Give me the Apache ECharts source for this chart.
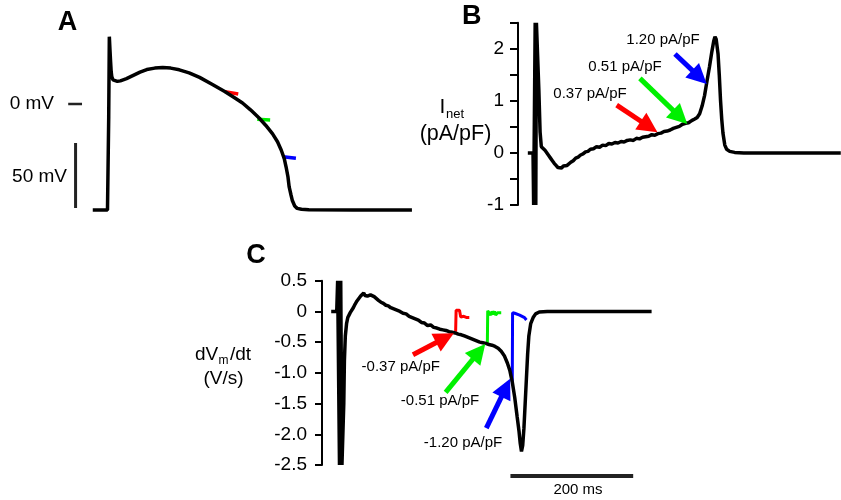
<!DOCTYPE html>
<html>
<head>
<meta charset="utf-8">
<script src="https://cdn.jsdelivr.net/npm/echarts@6/dist/echarts.min.js"></script>
<style>
html,body{margin:0;padding:0;background:#fff}
#main{width:841px;height:500px}
</style>
</head>
<body>
<div id="main"></div>
<script>
// time in ms from the upstroke, all three panels share the same time scale

// A: action potential (mV)
var apTrace = [[-25,-81.5],[-1,-81.5],[0,-80],[1,-10],[2,51.8],[3,42],[4,33],[5,25],[6,21],[8,18.5],[11,17.6],[15,17.4],[20,17.8],
  [30,19.5],[41,22],[52,24.5],[63,26.5],[76,27.6],[89,28],[102,27.6],[116,26.3],[132,24],[149,20.5],[170,15],
  [190,9.6],[206,4.8],[219,0.8],[232,-4.5],[246,-10.8],[257,-16.5],[268,-23],[276,-29],[282,-35.4],[287,-42],
  [290,-48.5],[293,-56],[295,-63.8],[298,-70],[300,-74],[304,-78.5],[308,-80.3],[315,-81],[327,-81.3],[400,-81.5],[495,-81.5]];
var apRed = [[190.5,9.5],[212,7.7]];
var apGreen = [[243,-11.8],[264,-12.3]];
var apBlue = [[285,-40.5],[306,-41.8]];
var apZeroTick = [[-65,0],[-42.5,0]];
var apScaleBar = [[-53,-80],[-53,-30]];

// B: net current (pA/pF)
var inetTrace = [[-12,0],[-3.5,0],[-2.5,-1],[-1,-1],[0,2.5],[1,-1],[2,2.5],[4,2.5],[6,1.2],[8,0.4],[10,0.12],[13,0.12],[16,0.05],[19,0.03],
  [22,-0.05],[25,-0.1],[28,-0.15],[31,-0.2],[34,-0.24],[37,-0.28],[40,-0.25],[43,-0.29],[46,-0.25],[49,-0.28],[52,-0.24],
  [55,-0.22],[58,-0.18],[62,-0.15],[66,-0.1],[70,-0.08],[74,-0.04],[78,-0.02],[82,0.02],[86,0.03],[90,0.07],[95,0.08],
  [100,0.12],[105,0.11],[110,0.15],[115,0.14],[120,0.18],[125,0.17],[130,0.2],[135,0.19],[140,0.22],[145,0.21],[150,0.24],
  [155,0.25],[160,0.24],[165,0.28],[170,0.27],[175,0.3],[180,0.31],[185,0.32],[190,0.35],[195,0.34],[200,0.37],[205,0.38],
  [210,0.41],[215,0.42],[220,0.44],[225,0.47],[230,0.49],[235,0.51],[240,0.55],[245,0.57],[250,0.58],[255,0.62],[260,0.65],
  [264,0.68],[268,0.75],[272,0.9],[276,1.1],[280,1.38],[284,1.65],[288,1.95],[291,2.15],[293,2.23],[295,2.18],[298,1.9],
  [300,1.5],[302,1.02],[304,0.65],[306,0.38],[309,0.15],[312,0.07],[317,0.03],[325,0.01],[340,0],[380,0],[420,0],[460,0],[498,0]];
var inetArrows = [
  {color:'#ff0000', from:[132.8,0.919], to:[185.7,0.503]},
  {color:'#00f000', from:[170.7,1.432], to:[236.2,0.687]},
  {color:'#0000ff', from:[227.8,1.898], to:[267.7,1.455]}
];

// C: dVm/dt (V/s)
var dvdtTrace = [[-17,0],[-8,0],[-6.5,0.5],[-4.5,0.5],[-3.5,-2.5],[-1.5,0.5],[0.5,-2.5],[2.5,-2.5],[3.5,-1.5],[4.5,-0.8],[6,-0.4],[8,-0.2],[10,-0.1],
  [12,-0.06],[14,-0.02],[16,0],[19,0.06],[22,0.12],[25,0.17],[28,0.2],[31,0.25],[34,0.28],[36,0.3],[38,0.26],[40,0.28],
  [42,0.25],[44,0.28],[47,0.27],[50,0.29],[53,0.24],[56,0.22],[60,0.18],[64,0.15],[68,0.13],[72,0.1],[76,0.09],[80,0.06],
  [85,0.04],[90,0.02],[95,0],[100,-0.03],[105,-0.04],[110,-0.08],[115,-0.1],[120,-0.12],[125,-0.14],[130,-0.18],[135,-0.19],
  [140,-0.23],[145,-0.22],[150,-0.26],[155,-0.27],[160,-0.29],[165,-0.3],[170,-0.31],[175,-0.33],[180,-0.34],[185,-0.35],
  [190,-0.37],[195,-0.38],[200,-0.4],[205,-0.42],[210,-0.44],[215,-0.46],[220,-0.48],[225,-0.5],[230,-0.51],[235,-0.52],
  [240,-0.54],[245,-0.55],[250,-0.57],[255,-0.6],[260,-0.65],[265,-0.72],[270,-0.84],[274,-0.96],[278,-1.15],[282,-1.4],
  [286,-1.72],[289,-1.95],[291,-2.15],[293,-2.28],[295,-2.18],[297,-1.9],[299,-1.5],[301,-1.1],[303,-0.7],[305,-0.4],
  [308,-0.2],[312,-0.1],[316,-0.04],[322,-0.01],[335,0],[380,0],[430,0],[480,0],[505,0]];
var dvdtRed = [[185.7,-0.33],[186.5,0.02],[192,0.02],[194,-0.09],[196,-0.06],[199,-0.08],[201,-0.07],[204,-0.1],[208,-0.1]];
var dvdtGreen = [[237.4,-0.52],[238,0.01],[241,0],[243,-0.06],[245,0],[247,-0.05],[249,0],[251,-0.06],[254,-0.02],[257,-0.03],[260,-0.02]];
var dvdtBlue = [[278,-1.15],[278.5,-0.02],[282,-0.03],[285,-0.05],[290,-0.06],[293,-0.08],[298,-0.1],[301,-0.14]];
var dvdtArrows = [
  {color:'#ff0000', from:[116.2,-0.705], to:[168.3,-0.432]},
  {color:'#00f000', from:[169.4,-1.319], to:[223.7,-0.656]},
  {color:'#0000ff', from:[235.7,-1.899], to:[267.4,-1.244]}
];
var timeScaleBar = [[275,-2.68],[475,-2.68]];

var FONT = '"Liberation Sans", Arial, sans-serif';

function trace(data, idx, color, width, z) {
  return {
    type:'line', xAxisIndex:idx, yAxisIndex:idx, data:data, symbol:'none',
    lineStyle:{color:color, width:width}, silent:true, z:z || 2
  };
}

function arrows(list, idx) {
  return {
    type:'line', xAxisIndex:idx, yAxisIndex:idx, data:[], silent:true, z:5,
    markLine:{
      silent:true, animation:false,
      symbol:['none','triangle'], symbolSize:20,
      label:{show:false},
      emphasis:{disabled:true},
      data:list.map(function (a) {
        return [
          {coord:a.from, lineStyle:{color:a.color, width:5, type:'solid'}, itemStyle:{color:a.color}},
          {coord:a.to}
        ];
      })
    }
  };
}

function txt(text, x, y, size, align, bold) {
  return {
    type:'text', x:x, y:y, silent:true,
    style:{
      text:text, fill:'#000',
      font:(bold ? 'bold ' : '') + size + 'px ' + FONT,
      textAlign:align || 'center', align:align || 'center',
      textVerticalAlign:'middle', verticalAlign:'middle'
    }
  };
}

function yAxisFor(idx, min, max, tickLen, margin, fmt) {
  return {
    type:'value', gridIndex:idx, min:min, max:max, interval:0.5,
    splitLine:{show:false},
    axisLine:{show:true, onZero:false, lineStyle:{color:'#000', width:2}},
    axisTick:{show:true, length:tickLen, lineStyle:{color:'#000', width:2}},
    axisLabel:{margin:margin, color:'#000', fontSize:19, fontFamily:FONT, formatter:fmt}
  };
}

var myChart = echarts.init(document.getElementById('main'));
var option = {
  animation:false,
  backgroundColor:'#fff',
  grid:[
    {left:59, top:26, width:356, height:195, outerBoundsMode:'none'},
    {left:518, top:22.7, width:324, height:182.3, outerBoundsMode:'none'},
    {left:322, top:280.7, width:329.6, height:184.3, outerBoundsMode:'none'}
  ],
  xAxis:[
    {type:'value', gridIndex:0, min:-80, max:500, show:false},
    {type:'value', gridIndex:1, min:-28, max:500, show:false},
    {type:'value', gridIndex:2, min:-32, max:505, show:false}
  ],
  yAxis:[
    {type:'value', gridIndex:0, min:-90, max:60, show:false},
    yAxisFor(1, -1, 2.5, 8, 14, function (v) { return Number.isInteger(v) ? String(v) : ''; }),
    yAxisFor(2, -2.5, 0.5, 7, 15, function (v) { return v === 0 ? '0' : v.toFixed(1); })
  ],
  series:[
    trace(apTrace, 0, '#000', 3.5, 3),
    trace(apRed, 0, '#ff0000', 3.5, 2),
    trace(apGreen, 0, '#00f000', 3.5, 2),
    trace(apBlue, 0, '#0000ff', 3.5, 2),
    trace(apZeroTick, 0, '#222', 2.5, 2),
    trace(apScaleBar, 0, '#222', 3, 2),
    trace(inetTrace, 1, '#000', 3.5, 3),
    arrows(inetArrows, 1),
    trace(dvdtTrace, 2, '#000', 3.5, 3),
    trace(dvdtRed, 2, '#ff0000', 3, 2),
    trace(dvdtGreen, 2, '#00f000', 3, 2),
    trace(dvdtBlue, 2, '#0000ff', 3, 2),
    arrows(dvdtArrows, 2),
    Object.assign(trace(timeScaleBar, 2, '#222', 4, 2), {clip:false})
  ],
  graphic:[
    txt('A', 67.5, 22.5, 27, 'center', true),
    txt('B', 471.7, 16.7, 27, 'center', true),
    txt('C', 256, 256, 27, 'center', true),
    txt('0 mV', 54, 104, 19, 'right'),
    txt('50 mV', 67, 177, 19, 'right'),
    txt('I', 442.5, 107.5, 21, 'center'),
    txt('net', 446, 114, 13, 'left'),
    txt('(pA/pF)', 455.5, 134, 21.5, 'center'),
    txt('1.20 pA/pF', 663, 40, 15, 'center'),
    txt('0.51 pA/pF', 625, 67, 15, 'center'),
    txt('0.37 pA/pF', 590, 94, 15, 'center'),
    txt('dV', 195, 355, 19, 'left'),
    txt('m', 218.5, 361, 12, 'left'),
    txt('/dt', 230, 355, 19, 'left'),
    txt('(V/s)', 223.5, 379, 19, 'center'),
    txt('-0.37 pA/pF', 400.8, 366.7, 15, 'center'),
    txt('-0.51 pA/pF', 440, 401, 15, 'center'),
    txt('-1.20 pA/pF', 463, 443, 15, 'center'),
    txt('200 ms', 578, 490, 15, 'center')
  ]
};
myChart.setOption(option);
</script>
</body>
</html>
